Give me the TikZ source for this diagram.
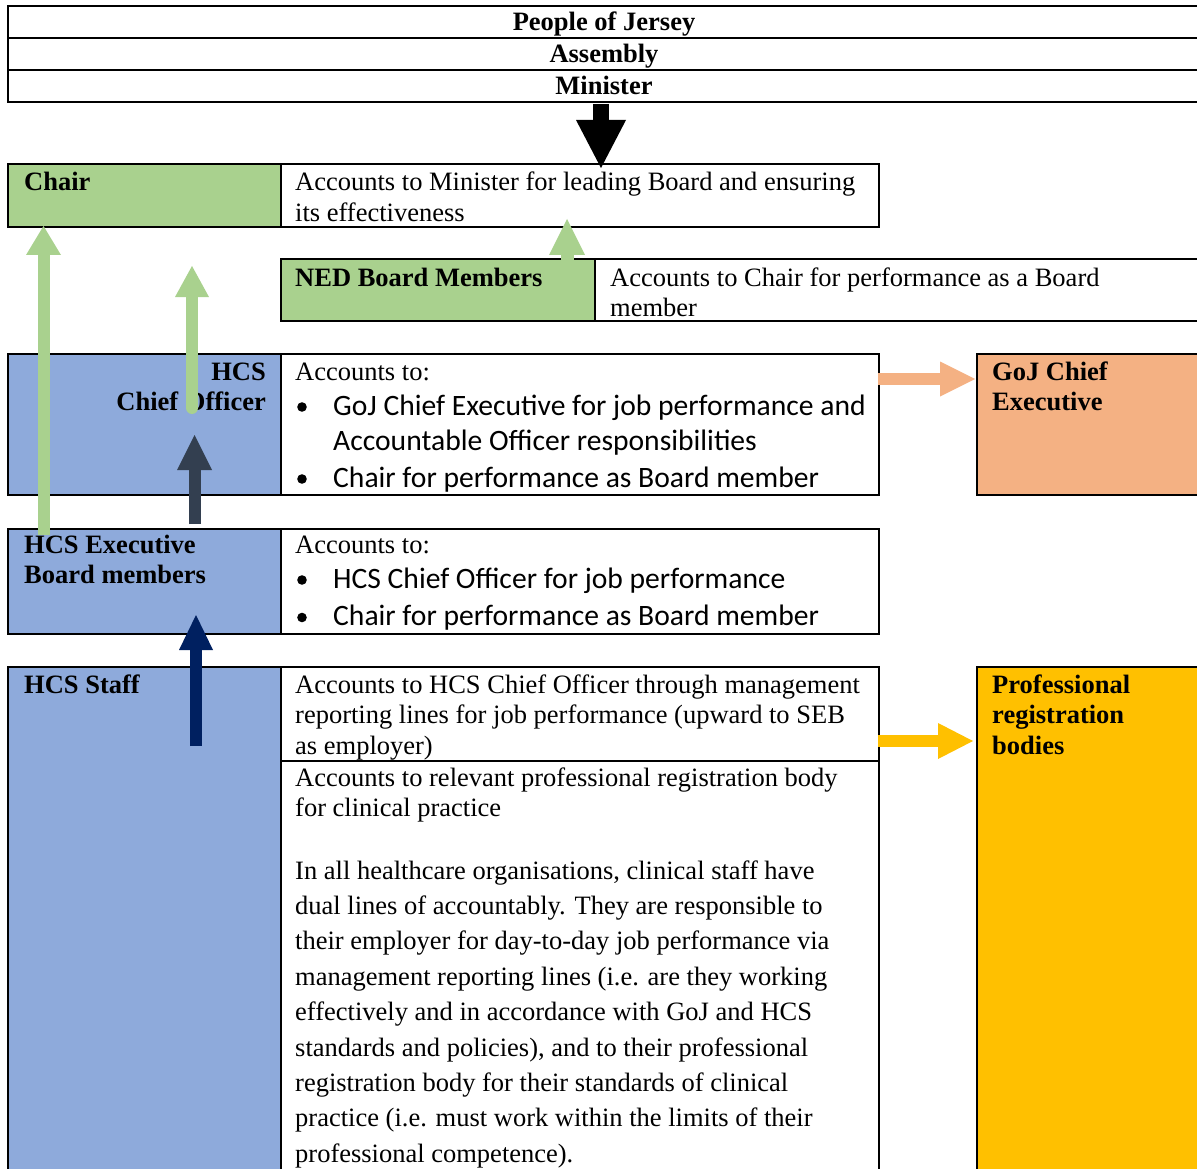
\documentclass[tikz,border=0pt]{standalone}
\usepackage{fontspec}
\setmainfont{Liberation Serif}
\newfontfamily\calfont{Carlito}
\usetikzlibrary{arrows.meta}
\definecolor{cgreen}{HTML}{A9D18E}
\definecolor{cblue}{HTML}{8EAADB}
\definecolor{corange}{HTML}{F4B183}
\definecolor{cgold}{HTML}{FFC000}
\definecolor{cslate}{HTML}{333F50}
\definecolor{cnavy}{HTML}{002060}
\newcommand\trm{\fontsize{26.5}{30.5}\selectfont}
\newcommand\trp{\fontsize{26.5}{35.4}\selectfont}
\newcommand\calf{\calfont\fontsize{29.6}{35.6}\selectfont}
\newcommand\mlines[1]{\begin{tabular}[t]{@{}l@{}}#1\end{tabular}}
\newcommand\mrlines[1]{\begin{tabular}[t]{@{}r@{}}#1\end{tabular}}
\newcommand\blist[1]{\begin{tabular}[t]{@{}l@{}l@{}}#1\end{tabular}}
\newcommand\bul{\makebox[36pt][l]{}}
\newcommand\mkcell[6]{\node[cell,fill=#6,minimum width={#4pt-#2pt},minimum height={#5pt-#3pt}] (#1) at (#2,#3) {};}
\begin{document}
\begin{tikzpicture}[x=1pt,y=-1pt,
  cell/.style={draw=black,line width=2pt,anchor=north west,inner sep=0pt,outer sep=0pt},
  txt/.style={anchor=base west,inner sep=0pt,font=\trm},
  lbl/.style={anchor=base west,inner sep=0pt,font=\trm\bfseries},
  bdot/.style={fill=black},
  up/.style n args={3}{-{Triangle[length=#1,width=#2,line width=0pt]},line width=#3}
]
\useasboundingbox (0,0) rectangle (1197,1169);
\begin{scope}
\clip (0,0) rectangle (1197,1169);
% cells
\mkcell{people}{8}{6}{1199}{38}{white}
\mkcell{assembly}{8}{38}{1199}{70}{white}
\mkcell{minister}{8}{70}{1199}{102}{white}
\mkcell{chair}{8}{164}{281}{227}{cgreen}
\mkcell{chairtxt}{281}{164}{879}{227}{white}
\mkcell{ned}{281}{259}{595}{321}{cgreen}
\mkcell{nedtxt}{595}{259}{1199}{321}{white}
\mkcell{co}{8}{354}{281}{495}{cblue}
\mkcell{cotxt}{281}{354}{879}{495}{white}
\mkcell{goj}{977}{354}{1199}{495}{corange}
\mkcell{exe}{8}{529}{281}{634}{cblue}
\mkcell{exetxt}{281}{529}{879}{634}{white}
\mkcell{staff}{8}{667}{281}{1172}{cblue}
\mkcell{stafftxta}{281}{667}{879}{761}{white}
\mkcell{stafftxtb}{281}{761}{879}{1172}{white}
\mkcell{prof}{977}{667}{1199}{1172}{cgold}
% texts
\node[lbl,anchor=base] (tpeople) at (604,31) {People of Jersey};
\node[lbl,anchor=base] (tassembly) at (604,63) {Assembly};
\node[lbl,anchor=base] (tminister) at (604,95) {Minister};
\node[lbl] (tchair) at (24,191) {Chair};
\node[txt] (tchairtxt) at (295,191) {\mlines{Accounts to Minister for leading Board and ensuring\\its effectiveness}};
\node[lbl] (tned) at (295,286) {NED Board Members};
\node[txt] (tnedtxt) at (610,286) {\mlines{Accounts to Chair for performance as a Board\\member}};
\node[lbl,anchor=base east] (tco) at (266,380) {\mrlines{HCS\\Chief Officer}};
\node[txt] (tcotxt) at (295,380) {Accounts to:};
\node[txt,font=\calf] (tcolist) at (297,415) {\blist{\bul&GoJ Chief Executive for job performance and\\&Accountable Officer responsibilities\\[1.5pt]\bul&Chair for performance as Board member}};
\node[lbl] (tgoj) at (992,380) {\mlines{GoJ Chief\\Executive}};
\node[lbl] (texe) at (24,553) {\mlines{HCS Executive\\Board members}};
\node[txt] (texetxt) at (295,553) {Accounts to:};
\node[txt,font=\calf] (texelist) at (297,588) {\blist{\bul&HCS Chief Officer for job performance\\[1.5pt]\bul&Chair for performance as Board member}};
\node[lbl] (tstaff) at (24,693) {HCS Staff};
\node[txt] (tstaffa) at (295,693) {\mlines{Accounts to HCS Chief Officer through management\\reporting lines for job performance (upward to SEB\\as employer)}};
\node[txt] (tstaffb) at (295,786) {\mlines{Accounts to relevant professional registration body\\for clinical practice}};
\node[txt,font=\trp] (tpara) at (295,879) {\mlines{In all healthcare organisations, clinical staff have\\dual lines of accountably. They are responsible to\\their employer for day-to-day job performance via\\management reporting lines (i.e. are they working\\effectively and in accordance with GoJ and HCS\\standards and policies), and to their professional\\registration body for their standards of clinical\\practice (i.e. must work within the limits of their\\professional competence).}};
\node[lbl] (tprof) at (992,693) {\mlines{Professional\\registration\\bodies}};
% bullets
\fill[bdot] (302,407) circle (4.8);
\fill[bdot] (302,479) circle (4.8);
\fill[bdot] (302,580) circle (4.8);
\fill[bdot] (302,617.5) circle (4.8);
% arrow end points
\coordinate (a1s) at (601,104); \coordinate (a1e) at (601,168);
\coordinate (a2s) at (567,262); \coordinate (a2e) at (567,219);
\coordinate (a3s) at (43.5,535); \coordinate (a3e) at (43.5,226);
\coordinate (a4s) at (192,408); \coordinate (a4e) at (192,266);
\coordinate (a5s) at (194.5,524); \coordinate (a5e) at (194.5,435);
\coordinate (a6s) at (196,746); \coordinate (a6e) at (196,615);
\coordinate (a7s) at (878,379); \coordinate (a7e) at (975,379);
\coordinate (a8s) at (878,741); \coordinate (a8e) at (973,741);
% arrows
\draw[black,up={48pt}{50pt}{16pt}] (a1s) -- (a1e);
\draw[cgreen,up={36pt}{36pt}{13pt}] (a2s) -- (a2e);
\draw[cgreen,up={29pt}{35pt}{12pt}] (a3s) -- (a3e);
\draw[cgreen,up={31pt}{34pt}{12pt},line cap=round] (a4s) -- (a4e);
\draw[cslate,up={35pt}{35pt}{12pt}] (a5s) -- (a5e);
\draw[cnavy,up={35pt}{34pt}{12pt}] (a6s) -- (a6e);
\draw[corange,up={35pt}{35pt}{12pt}] (a7s) -- (a7e);
\draw[cgold,up={35pt}{36pt}{12pt}] (a8s) -- (a8e);
\end{scope}
\end{tikzpicture}
\end{document}
